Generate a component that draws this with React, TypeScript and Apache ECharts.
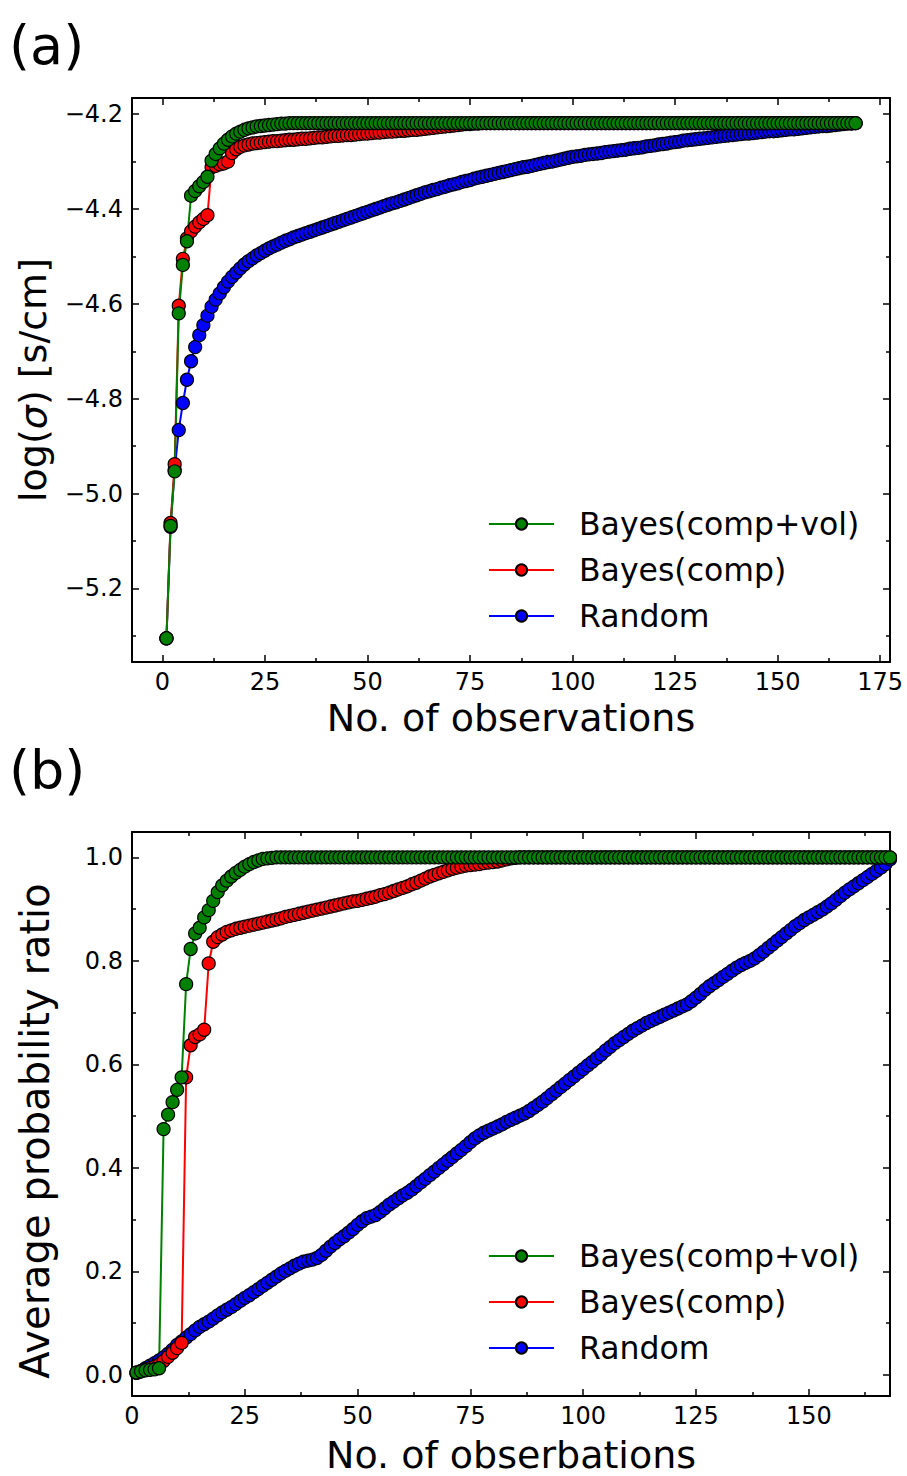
import React, { useEffect, useRef } from "react";
import * as echarts from "echarts";

const FONT = "'DejaVu Sans', sans-serif";

const seriesNames = ["Bayes(comp+vol)", "Bayes(comp)", "Random"];
const seriesColors = ["#008000", "#ff0000", "#0000ff"];
const firstObservation = 1;

// ---- Panel (a): log(sigma) vs number of observations (x = 1..169) ----
const topGreen = [
  -5.305, -5.068, -4.953, -4.620, -4.518, -4.468, -4.372, -4.362, -4.352, -4.343,
  -4.332, -4.298, -4.284, -4.272, -4.262, -4.254, -4.247, -4.241, -4.237, -4.233,
  -4.230, -4.228, -4.226, -4.225, -4.224, -4.223, -4.222, -4.221, -4.220, -4.220,
  -4.219, -4.219, -4.219, -4.219, -4.219, -4.219, -4.219, -4.219, -4.219, -4.219,
  -4.219, -4.219, -4.219, -4.219, -4.219, -4.219, -4.219, -4.219, -4.219, -4.219,
  -4.219, -4.219, -4.219, -4.219, -4.219, -4.219, -4.219, -4.219, -4.219, -4.219,
  -4.219, -4.219, -4.219, -4.219, -4.219, -4.219, -4.219, -4.219, -4.219, -4.219,
  -4.219, -4.219, -4.219, -4.219, -4.219, -4.219, -4.219, -4.219, -4.219, -4.219,
  -4.219, -4.219, -4.219, -4.219, -4.219, -4.219, -4.219, -4.219, -4.219, -4.219,
  -4.219, -4.219, -4.219, -4.219, -4.219, -4.219, -4.219, -4.219, -4.219, -4.219,
  -4.219, -4.219, -4.219, -4.219, -4.219, -4.219, -4.219, -4.219, -4.219, -4.219,
  -4.219, -4.219, -4.219, -4.219, -4.219, -4.219, -4.219, -4.219, -4.219, -4.219,
  -4.219, -4.219, -4.219, -4.219, -4.219, -4.219, -4.219, -4.219, -4.219, -4.219,
  -4.219, -4.219, -4.219, -4.219, -4.219, -4.219, -4.219, -4.219, -4.219, -4.219,
  -4.219, -4.219, -4.219, -4.219, -4.219, -4.219, -4.219, -4.219, -4.219, -4.219,
  -4.219, -4.219, -4.219, -4.219, -4.219, -4.219, -4.219, -4.219, -4.219, -4.219,
  -4.219, -4.219, -4.219, -4.219, -4.219, -4.219, -4.219, -4.219, -4.219,
];

const topRed = [
  -5.305, -5.062, -4.938, -4.604, -4.505, -4.462, -4.447, -4.437, -4.428, -4.421,
  -4.413, -4.312, -4.309, -4.306, -4.304, -4.300, -4.282, -4.274, -4.269, -4.266,
  -4.264, -4.262, -4.261, -4.260, -4.259, -4.258, -4.257, -4.257, -4.256, -4.255,
  -4.254, -4.254, -4.253, -4.252, -4.252, -4.251, -4.250, -4.249, -4.249, -4.248,
  -4.247, -4.246, -4.246, -4.245, -4.244, -4.244, -4.243, -4.242, -4.241, -4.241,
  -4.240, -4.239, -4.239, -4.238, -4.237, -4.237, -4.236, -4.235, -4.235, -4.234,
  -4.233, -4.233, -4.232, -4.231, -4.230, -4.229, -4.228, -4.227, -4.226, -4.225,
  -4.224, -4.223, -4.222, -4.221, -4.221, -4.220, -4.220, -4.219, -4.219, -4.219,
  -4.219, -4.219, -4.219, -4.219, -4.219, -4.219, -4.219, -4.219, -4.219, -4.219,
  -4.219, -4.219, -4.219, -4.219, -4.219, -4.219, -4.219, -4.219, -4.219, -4.219,
  -4.219, -4.219, -4.219, -4.219, -4.219, -4.219, -4.219, -4.219, -4.219, -4.219,
  -4.219, -4.219, -4.219, -4.219, -4.219, -4.219, -4.219, -4.219, -4.219, -4.219,
  -4.219, -4.219, -4.219, -4.219, -4.219, -4.219, -4.219, -4.219, -4.219, -4.219,
  -4.219, -4.219, -4.219, -4.219, -4.219, -4.219, -4.219, -4.219, -4.219, -4.219,
  -4.219, -4.219, -4.219, -4.219, -4.219, -4.219, -4.219, -4.219, -4.219, -4.219,
  -4.219, -4.219, -4.219, -4.219, -4.219, -4.219, -4.219, -4.219, -4.219, -4.219,
  -4.219, -4.219, -4.219, -4.219, -4.219, -4.219, -4.219, -4.219, -4.219,
];

const topBlue = [
  -5.305, -5.070, -4.950, -4.866, -4.809, -4.760, -4.721, -4.691, -4.666, -4.645,
  -4.625, -4.606, -4.591, -4.578, -4.565, -4.553, -4.543, -4.534, -4.525, -4.517,
  -4.510, -4.504, -4.498, -4.493, -4.488, -4.483, -4.479, -4.475, -4.471, -4.467,
  -4.464, -4.460, -4.457, -4.454, -4.451, -4.448, -4.445, -4.442, -4.439, -4.436,
  -4.433, -4.430, -4.427, -4.424, -4.421, -4.418, -4.415, -4.412, -4.409, -4.406,
  -4.403, -4.400, -4.397, -4.394, -4.391, -4.388, -4.386, -4.383, -4.380, -4.377,
  -4.374, -4.371, -4.368, -4.365, -4.363, -4.360, -4.358, -4.355, -4.353, -4.350,
  -4.348, -4.346, -4.343, -4.341, -4.339, -4.336, -4.334, -4.332, -4.330, -4.328,
  -4.326, -4.324, -4.322, -4.320, -4.318, -4.316, -4.314, -4.312, -4.311, -4.309,
  -4.307, -4.305, -4.303, -4.301, -4.300, -4.298, -4.296, -4.294, -4.292, -4.290,
  -4.289, -4.288, -4.286, -4.285, -4.284, -4.283, -4.282, -4.280, -4.279, -4.278,
  -4.277, -4.276, -4.275, -4.273, -4.272, -4.271, -4.270, -4.268, -4.267, -4.266,
  -4.264, -4.263, -4.262, -4.260, -4.259, -4.258, -4.256, -4.255, -4.254, -4.253,
  -4.252, -4.251, -4.250, -4.249, -4.248, -4.247, -4.246, -4.245, -4.244, -4.243,
  -4.242, -4.241, -4.241, -4.240, -4.239, -4.238, -4.237, -4.236, -4.236, -4.235,
  -4.234, -4.233, -4.232, -4.232, -4.231, -4.230, -4.229, -4.228, -4.227, -4.226,
  -4.225, -4.225, -4.224, -4.223, -4.222, -4.221, -4.220, -4.220, -4.219,
];

// ---- Panel (b): average probability ratio (x = 1..168) ----
const botGreen = [
  0.005, 0.007, 0.009, 0.010, 0.011, 0.013, 0.475, 0.503, 0.527, 0.551,
  0.575, 0.755, 0.823, 0.853, 0.864, 0.884, 0.898, 0.916, 0.933, 0.946,
  0.955, 0.963, 0.970, 0.976, 0.982, 0.987, 0.991, 0.994, 0.997, 0.998,
  0.999, 1, 1, 1, 1, 1, 1, 1, 1, 1,
  1, 1, 1, 1, 1, 1, 1, 1, 1, 1,
  1, 1, 1, 1, 1, 1, 1, 1, 1, 1,
  1, 1, 1, 1, 1, 1, 1, 1, 1, 1,
  1, 1, 1, 1, 1, 1, 1, 1, 1, 1,
  1, 1, 1, 1, 1, 1, 1, 1, 1, 1,
  1, 1, 1, 1, 1, 1, 1, 1, 1, 1,
  1, 1, 1, 1, 1, 1, 1, 1, 1, 1,
  1, 1, 1, 1, 1, 1, 1, 1, 1, 1,
  1, 1, 1, 1, 1, 1, 1, 1, 1, 1,
  1, 1, 1, 1, 1, 1, 1, 1, 1, 1,
  1, 1, 1, 1, 1, 1, 1, 1, 1, 1,
  1, 1, 1, 1, 1, 1, 1, 1, 1, 1,
  1, 1, 1, 1, 1, 1, 1, 1,
];

const botRed = [
  0.004, 0.007, 0.010, 0.013, 0.016, 0.020, 0.027, 0.035, 0.043, 0.052,
  0.062, 0.575, 0.637, 0.653, 0.658, 0.667, 0.795, 0.837, 0.846, 0.851,
  0.856, 0.859, 0.862, 0.864, 0.866, 0.868, 0.870, 0.872, 0.874, 0.876,
  0.878, 0.880, 0.882, 0.885, 0.887, 0.889, 0.891, 0.893, 0.895, 0.897,
  0.899, 0.901, 0.903, 0.905, 0.907, 0.909, 0.911, 0.913, 0.915, 0.916,
  0.918, 0.920, 0.922, 0.924, 0.927, 0.929, 0.932, 0.935, 0.938, 0.941,
  0.944, 0.948, 0.951, 0.955, 0.959, 0.963, 0.966, 0.969, 0.972, 0.975,
  0.978, 0.980, 0.982, 0.984, 0.985, 0.986, 0.987, 0.989, 0.990, 0.991,
  0.992, 0.994, 0.996, 0.998, 0.999, 1, 1, 1, 1, 1,
  1, 1, 1, 1, 1, 1, 1, 1, 1, 1,
  1, 1, 1, 1, 1, 1, 1, 1, 1, 1,
  1, 1, 1, 1, 1, 1, 1, 1, 1, 1,
  1, 1, 1, 1, 1, 1, 1, 1, 1, 1,
  1, 1, 1, 1, 1, 1, 1, 1, 1, 1,
  1, 1, 1, 1, 1, 1, 1, 1, 1, 1,
  1, 1, 1, 1, 1, 1, 1, 1, 1, 1,
  1, 1, 1, 1, 1, 1, 1, 1,
];

const botBlue = [
  0.004, 0.008, 0.013, 0.018, 0.023, 0.028, 0.034, 0.041, 0.049, 0.058,
  0.065, 0.072, 0.079, 0.086, 0.093, 0.098, 0.103, 0.109, 0.115, 0.121,
  0.126, 0.131, 0.137, 0.143, 0.149, 0.154, 0.160, 0.166, 0.172, 0.178,
  0.184, 0.190, 0.196, 0.201, 0.206, 0.211, 0.215, 0.219, 0.221, 0.223,
  0.226, 0.232, 0.240, 0.248, 0.255, 0.262, 0.268, 0.275, 0.282, 0.290,
  0.297, 0.303, 0.306, 0.309, 0.315, 0.322, 0.329, 0.335, 0.341, 0.347,
  0.352, 0.358, 0.365, 0.372, 0.379, 0.386, 0.393, 0.400, 0.407, 0.414,
  0.421, 0.428, 0.435, 0.442, 0.450, 0.457, 0.463, 0.468, 0.472, 0.476,
  0.480, 0.484, 0.489, 0.493, 0.497, 0.501, 0.505, 0.510, 0.516, 0.522,
  0.528, 0.535, 0.542, 0.549, 0.556, 0.563, 0.570, 0.577, 0.584, 0.591,
  0.598, 0.605, 0.612, 0.619, 0.627, 0.634, 0.641, 0.647, 0.653, 0.659,
  0.665, 0.670, 0.675, 0.680, 0.684, 0.688, 0.692, 0.696, 0.700, 0.704,
  0.708, 0.712, 0.716, 0.722, 0.729, 0.736, 0.744, 0.751, 0.757, 0.763,
  0.769, 0.775, 0.781, 0.787, 0.792, 0.796, 0.800, 0.805, 0.811, 0.818,
  0.825, 0.832, 0.839, 0.846, 0.853, 0.860, 0.867, 0.873, 0.879, 0.884,
  0.889, 0.894, 0.899, 0.905, 0.911, 0.918, 0.925, 0.932, 0.938, 0.944,
  0.950, 0.956, 0.962, 0.968, 0.974, 0.980, 0.987, 0.996,
];

// ---- Axis ranges and ticks ----
const topXRange = [-7.4, 177.4];
const topYRange = [-5.355, -4.166];
const topXTicks = [0, 25, 50, 75, 100, 125, 150, 175];
const topXMinor = [12.5, 37.5, 62.5, 87.5, 112.5, 137.5, 162.5];
const topYTicks = [-5.2, -5.0, -4.8, -4.6, -4.4, -4.2];
const topYMinor = [-5.3, -5.1, -4.9, -4.7, -4.5, -4.3];

const botXRange = [0, 168];
const botYRange = [-0.0406, 1.049];
const botXTicks = [0, 25, 50, 75, 100, 125, 150];
const botXMinor = [12.5, 37.5, 62.5, 87.5, 112.5, 137.5, 162.5];
const botYTicks = [0, 0.2, 0.4, 0.6, 0.8, 1.0];
const botYMinor = [0.1, 0.3, 0.5, 0.7, 0.9];

const toPairs = (vals: number[]) => vals.map((v, i) => [firstObservation + i, v]);

type AxisOpts = {
  gridIndex: number;
  position: string;
  range: number[];
  ticks: number[];
  major: boolean;
  labels?: boolean;
  isY?: boolean;
  fmt?: (v: number) => string;
  name?: string;
  nameGap?: number;
  nameSize?: number;
  namePadding?: number[];
};

function buildAxis(o: AxisOpts) {
  const ax: any = {
    type: "value",
    gridIndex: o.gridIndex,
    position: o.position,
    min: o.range[0],
    max: o.range[1],
    splitLine: { show: false },
    axisLine: { show: o.major, onZero: false, lineStyle: { color: "#000", width: 2 } },
    axisTick: {
      show: true,
      inside: true,
      length: o.major ? 7 : 4,
      customValues: o.ticks,
      lineStyle: { color: "#000", width: 1.5 },
    },
    axisLabel: {
      show: !!o.labels,
      customValues: o.ticks,
      formatter: o.fmt,
      fontSize: 24,
      fontFamily: FONT,
      color: "#000",
      margin: o.isY ? 9 : 8,
    },
  };
  if (o.name) {
    const size = o.nameSize || 38;
    ax.name = o.name;
    ax.nameLocation = "middle";
    ax.nameGap = o.nameGap;
    ax.nameRotate = o.isY ? 90 : 0;
    ax.nameTextStyle = {
      fontSize: size,
      lineHeight: size,
      fontFamily: FONT,
      color: "#000",
      padding: o.namePadding || 0,
      rich: { i: { fontSize: size, lineHeight: size, fontFamily: FONT, fontStyle: "italic", color: "#000" } },
    };
  }
  return ax;
}

const fmtTopY = (v: number) => v.toFixed(1).replace("-", "\u2212");
const fmtBotY = (v: number) => v.toFixed(1);
const fmtX = (v: number) => String(Math.round(v));

function makeSeries(data: number[][], idx: number, axisIndex: number) {
  return {
    type: "line",
    name: seriesNames[idx],
    xAxisIndex: axisIndex,
    yAxisIndex: axisIndex,
    data,
    symbol: "circle",
    symbolSize: 13,
    showAllSymbol: true,
    silent: true,
    lineStyle: { color: seriesColors[idx], width: 2 },
    itemStyle: { color: seriesColors[idx], borderColor: "#000", borderWidth: 1.2 },
    emphasis: { disabled: true },
  };
}

export default function App() {
  const ref = useRef<HTMLDivElement>(null);
  useEffect(() => {
    if (!ref.current) return;
    const chart = echarts.init(ref.current, undefined, { renderer: "svg" });

    const gridTop = { left: 132, top: 98, width: 758, height: 564 };
    const gridBot = { left: 132, top: 832, width: 758, height: 564 };

    const xAxis = [
      buildAxis({ gridIndex: 0, position: "bottom", range: topXRange, ticks: topXTicks, major: true, labels: true, fmt: fmtX, name: "No. of observations", nameGap: 37 }),
      buildAxis({ gridIndex: 0, position: "top", range: topXRange, ticks: topXTicks, major: true }),
      buildAxis({ gridIndex: 1, position: "bottom", range: topXRange, ticks: topXMinor, major: false }),
      buildAxis({ gridIndex: 1, position: "top", range: topXRange, ticks: topXMinor, major: false }),
      buildAxis({ gridIndex: 2, position: "bottom", range: botXRange, ticks: botXTicks, major: true, labels: true, fmt: fmtX, name: "No. of obserbations", nameGap: 40 }),
      buildAxis({ gridIndex: 2, position: "top", range: botXRange, ticks: botXTicks, major: true }),
      buildAxis({ gridIndex: 3, position: "bottom", range: botXRange, ticks: botXMinor, major: false }),
      buildAxis({ gridIndex: 3, position: "top", range: botXRange, ticks: botXMinor, major: false }),
    ];
    const yAxis = [
      buildAxis({ gridIndex: 0, position: "left", range: topYRange, ticks: topYTicks, major: true, labels: true, isY: true, fmt: fmtTopY, name: "log({i|\u03c3}) [s/cm]", nameGap: 80 }),
      buildAxis({ gridIndex: 0, position: "right", range: topYRange, ticks: topYTicks, major: true, isY: true }),
      buildAxis({ gridIndex: 1, position: "left", range: topYRange, ticks: topYMinor, major: false, isY: true }),
      buildAxis({ gridIndex: 1, position: "right", range: topYRange, ticks: topYMinor, major: false, isY: true }),
      buildAxis({ gridIndex: 2, position: "left", range: botYRange, ticks: botYTicks, major: true, labels: true, isY: true, fmt: fmtBotY, name: "Average probability ratio", nameGap: 77, nameSize: 40, namePadding: [0, 34, 0, 0] }),
      buildAxis({ gridIndex: 2, position: "right", range: botYRange, ticks: botYTicks, major: true, isY: true }),
      buildAxis({ gridIndex: 3, position: "left", range: botYRange, ticks: botYMinor, major: false, isY: true }),
      buildAxis({ gridIndex: 3, position: "right", range: botYRange, ticks: botYMinor, major: false, isY: true }),
    ];

    const legendBase = {
      orient: "vertical",
      left: 483,
      itemWidth: 65,
      itemHeight: 14,
      itemGap: 10,
      selectedMode: false,
      data: [seriesNames[0], seriesNames[1], seriesNames[2]],
      textStyle: { fontSize: 31.5, fontFamily: FONT, color: "#000", lineHeight: 36, padding: [0, 0, 0, 20] },
    };

    chart.setOption({
      animation: false,
      backgroundColor: "#fff",
      grid: [
        { ...gridTop, containLabel: false },
        { ...gridTop, containLabel: false },
        { ...gridBot, containLabel: false },
        { ...gridBot, containLabel: false },
      ],
      xAxis,
      yAxis,
      legend: [
        { ...legendBase, top: 501 },
        { ...legendBase, top: 1233 },
      ],
      graphic: [
        { type: "text", left: 9, top: 18, style: { text: "(a)", fontSize: 54, fontFamily: FONT, fill: "#000" } },
        { type: "text", left: 9, top: 743, style: { text: "(b)", fontSize: 54, fontFamily: FONT, fill: "#000" } },
      ],
      series: [
        makeSeries(toPairs(topBlue), 2, 0),
        makeSeries(toPairs(topRed), 1, 0),
        makeSeries(toPairs(topGreen), 0, 0),
        makeSeries(toPairs(botBlue), 2, 4),
        makeSeries(toPairs(botRed), 1, 4),
        makeSeries(toPairs(botGreen), 0, 4),
      ],
    });

    return () => chart.dispose();
  }, []);

  return (
    <div
      ref={ref}
      style={{ position: "absolute", left: 0, top: 0, width: 907, height: 1476, background: "#fff" }}
    />
  );
}
